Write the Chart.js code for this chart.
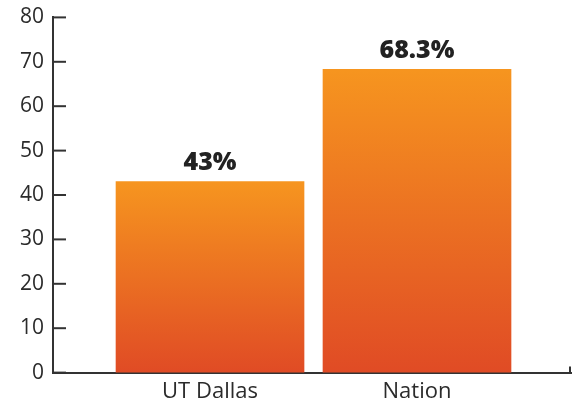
<!DOCTYPE html>
<html>
<head>
<meta charset="utf-8">
<script src="https://cdn.jsdelivr.net/npm/chart.js@4"></script>
<style>
  html, body { margin: 0; padding: 0; background: #fff; }
  #wrap { width: 575px; height: 404px; }
</style>
</head>
<body>
<div id="wrap"><canvas id="rateBar" width="575" height="404"></canvas></div>
<script>
/*..........UT Dallas vs Nation..........*/

const categories = ['UT Dallas', 'Nation'];
const values = [43, 68.3];
const valueLabels = ['43%', '68.3%'];
const yTicks = [0, 10, 20, 30, 40, 50, 60, 70, 80];

const axisColor = '#333333';
const textColor = '#2b2b2b';

// bars sit at x = 1, 2 on a linear axis so the gaps at the ends can differ
const points = values.map((v, i) => ({ x: i + 1, y: v }));

function barGradient(context) {
  const chart = context.chart;
  const area = chart.chartArea;
  if (!area || context.raw == null) return '#ee7422';
  const yScale = chart.scales.y;
  const top = yScale.getPixelForValue(context.raw.y);
  const bottom = yScale.getPixelForValue(0);
  const g = chart.ctx.createLinearGradient(0, top, 0, bottom);
  g.addColorStop(0, '#f6951f');
  g.addColorStop(1, '#e04b25');
  return g;
}

// short tick marks pointing into the plot, and the little end mark on x
const innerTicks = {
  id: 'innerTicks',
  afterDraw(chart) {
    const ctx = chart.ctx;
    const y = chart.scales.y;
    const x = chart.scales.x;
    ctx.save();
    ctx.strokeStyle = axisColor;
    ctx.lineWidth = 2;
    yTicks.forEach(t => {
      const py = y.getPixelForValue(t);
      ctx.beginPath();
      ctx.moveTo(x.left, py);
      ctx.lineTo(x.left + 13, py);
      ctx.stroke();
    });
    ctx.beginPath();
    ctx.moveTo(x.right - 1, y.bottom);
    ctx.lineTo(x.right - 1, y.bottom - 6);
    ctx.stroke();
    ctx.restore();
  }
};

const valueLabelPlugin = {
  id: 'valueLabels',
  afterDatasetsDraw(chart) {
    const ctx = chart.ctx;
    const meta = chart.getDatasetMeta(0);
    ctx.save();
    ctx.fillStyle = '#222222';
    ctx.font = '800 25px "Open Sans", sans-serif';
    ctx.textAlign = 'center';
    ctx.textBaseline = 'bottom';
    meta.data.forEach((bar, i) => {
      ctx.fillText(valueLabels[i], bar.x, bar.y - 6);
    });
    ctx.restore();
  }
};

const config = {
  type: 'bar',
  data: {
    datasets: [{
      data: points,
      backgroundColor: barGradient,
      barThickness: 188,
      borderWidth: 0
    }]
  },
  options: {
    responsive: false,
    animation: false,
    layout: { padding: { top: 6, right: 4, left: 11, bottom: -7 } },
    plugins: {
      legend: { display: false },
      tooltip: { enabled: false }
    },
    scales: {
      x: {
        type: 'linear',
        offset: false,
        min: 0.2415,
        max: 2.744,
        afterBuildTicks: (scale) => {
          scale.ticks = categories.map((c, i) => ({ value: i + 1 }));
        },
        ticks: {
          color: textColor,
          font: { family: '"Open Sans", sans-serif', size: 22 },
          padding: 6,
          callback: (v) => categories[v - 1]
        },
        grid: { display: false, drawTicks: false, offset: false },
        border: { color: axisColor, width: 2 }
      },
      y: {
        min: 0,
        max: 80,
        afterBuildTicks: (scale) => {
          scale.ticks = yTicks.map(v => ({ value: v }));
        },
        ticks: {
          color: textColor,
          font: { family: '"Open Sans", sans-serif', size: 21, lineHeight: 0.8 },
          padding: 9
        },
        grid: { display: false, drawTicks: false },
        border: { color: axisColor, width: 2 }
      }
    }
  },
  plugins: [innerTicks, valueLabelPlugin]
};

const ctx = document.getElementById('rateBar').getContext('2d');
const rateBar = new Chart(ctx, config);
</script>
</body>
</html>
